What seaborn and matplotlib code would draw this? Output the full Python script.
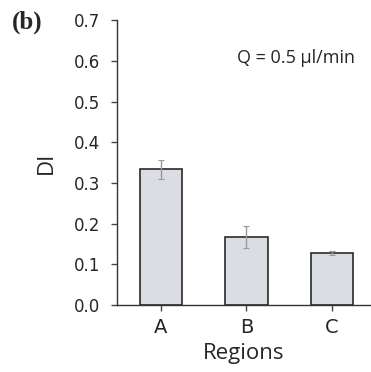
import pandas as pd
import numpy as np
import matplotlib
matplotlib.use('Agg')
import matplotlib.pyplot as plt
import seaborn as sns

regions = ['A', 'B', 'C']
di_mean = [0.333, 0.168, 0.128]
di_err = [0.024, 0.027, 0.005]
y_ticks = [0.0, 0.1, 0.2, 0.3, 0.4, 0.5, 0.6, 0.7]

df = pd.DataFrame({'Regions': regions, 'DI': di_mean})

sns.set_style('ticks')
plt.rcParams['font.family'] = ['DejaVu Sans']

fig = plt.figure(figsize=(3.71, 3.72), dpi=100)
ax = fig.add_axes([0.315, 0.18, 0.685, 0.766])

sns.barplot(data=df, x='Regions', y='DI', color='#dadde2', saturation=1,
            width=0.5, edgecolor='#2a2a2a', linewidth=1.2, errorbar=None, ax=ax)
ax.errorbar(range(len(regions)), di_mean, yerr=di_err, fmt='none',
            ecolor='#999999', elinewidth=1, capsize=2, capthick=0.8)

ax.set_xlim(-0.515, 2.456)
ax.set_ylim(0, 0.7)
ax.set_yticks(y_ticks)
ax.set_yticklabels([f'{t:.1f}' for t in y_ticks], fontsize=12)
ax.set_xticks(range(len(regions)))
ax.set_xticklabels(regions, fontsize=14, family=['DejaVu Sans'])
ax.tick_params(axis='x', length=4, width=1, color='#444444', pad=5)
ax.tick_params(axis='y', length=4, width=1, color='#444444', pad=8)
ax.set_xlabel('Regions', fontsize=16, family=['Open Sans', 'DejaVu Sans'], labelpad=5)
ax.set_ylabel('DI', fontsize=16, family=['Open Sans', 'DejaVu Sans'], labelpad=12)
for s in ['top', 'right']:
    ax.spines[s].set_visible(False)
for s in ['left', 'bottom']:
    ax.spines[s].set_color('#333333')
    ax.spines[s].set_linewidth(1)

ax.text(0.937, 0.867, 'Q = 0.5 µl/min', transform=ax.transAxes, ha='right', va='center',
        fontsize=13, family=['Open Sans', 'DejaVu Sans'])
fig.text(0.032, 0.941, '(b)', fontsize=18, fontweight='bold',
         family=['Liberation Serif', 'DejaVu Serif'], va='center')

fig.savefig('out.png', dpi=100)
